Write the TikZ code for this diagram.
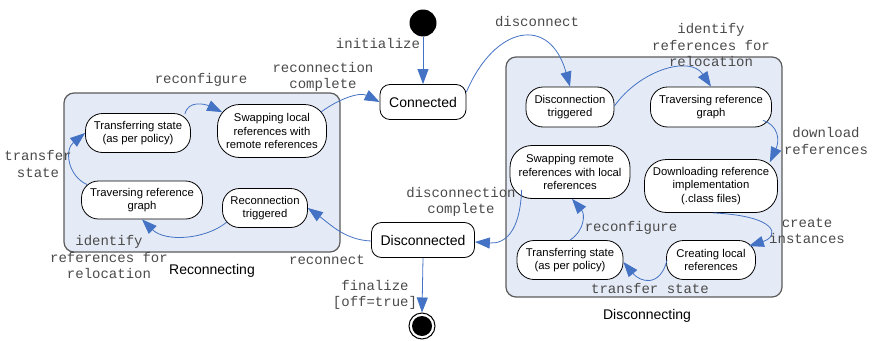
\documentclass[tikz,border=0pt]{standalone}
\usepackage{fontspec}
\setmainfont{Liberation Sans}
\newfontfamily\labelmono{Liberation Mono}
\usetikzlibrary{arrows.meta}
\definecolor{flowblue}{HTML}{4472C4}
\definecolor{regionfill}{HTML}{E5EBF6}
\definecolor{regionline}{HTML}{5A5A5A}
\definecolor{labelgray}{HTML}{4A4A4A}

\begin{document}
\begin{tikzpicture}[x=1pt,y=-1pt,
  region/.style={draw=regionline, line width=1.2pt, fill=regionfill, rounded corners=10pt},
  state/.style={draw, line width=0.8pt, fill=white, rounded corners=10pt,
    font=\fontsize{14}{17}\selectfont, inner sep=0pt},
  activity/.style={draw, line width=0.8pt, fill=white, rounded corners=#1,
    align=center, inner sep=0pt, font=\fontsize{11.3}{13.5}\selectfont},
  trans/.style={draw=flowblue, line width=0.8pt,
    -{Triangle[length=15pt,width=11pt,fill=flowblue]}},
  lbl/.style={font=\labelmono\fontsize{14}{16.5}\selectfont, text=labelgray,
    align=center, inner sep=0pt},
  regionname/.style={font=\fontsize{14}{17}\selectfont, inner sep=0pt}
]
\useasboundingbox (0,0) rectangle (872,340);

% composite states
\draw[region] (64,93) rectangle (340,252);
\draw[region] (506,57) rectangle (782,297);
\node[regionname] (recname) at (212,271) {Reconnecting};
\node[regionname] (disname) at (647,316) {Disconnecting};

% initial and final pseudo states
\node[circle, fill=black, minimum size=27pt, inner sep=0pt] (init) at (423,23) {};
\node[circle, draw, line width=1pt, minimum size=26pt, inner sep=0pt] (fin) at (422,326) {};
\fill (fin.center) circle (10pt);

% top level states
\node[state, minimum width=86pt, minimum height=35pt] (conn) at (423,102) {Connected};
\node[state, minimum width=103pt, minimum height=35pt] (disc) at (423,240) {Disconnected};

% Reconnecting activities
\node[activity=17pt, minimum width=105pt, minimum height=39pt] (rtrans) at (138,133)
  {Transferring state\\(as per policy)};
\node[activity=22pt, minimum width=109pt, minimum height=53pt] (rswap) at (272,131)
  {Swapping local\\references with\\remote references};
\node[activity=17pt, minimum width=121pt, minimum height=38pt] (rtrav) at (142,200)
  {Traversing reference\\graph};
\node[activity=17pt, minimum width=85pt, minimum height=39pt] (rtrig) at (265,208)
  {Reconnection\\triggered};

% Disconnecting activities
\node[activity=17pt, minimum width=88pt, minimum height=40pt] (dtrig) at (570,107)
  {Disconnection\\triggered};
\node[activity=17pt, minimum width=121pt, minimum height=40pt] (dtrav) at (711,107)
  {Traversing reference\\graph};
\node[activity=22pt, minimum width=120pt, minimum height=53pt] (dswap) at (570,172)
  {Swapping remote\\references with local\\references};
\node[activity=22pt, minimum width=133pt, minimum height=53pt] (dload) at (711,186)
  {Downloading reference\\implementation\\(.class files)};
\node[activity=17pt, minimum width=106pt, minimum height=39pt] (dtrans) at (570,260)
  {Transferring state\\(as per policy)};
\node[activity=17pt, minimum width=89pt, minimum height=39pt] (cloc) at (711,260)
  {Creating local\\references};

% transitions
\draw[trans] (init) -- (conn);
\draw[trans] ([yshift=10pt]conn.east) .. controls (495,25) and (550,15) .. (dtrig.north);
\draw[trans] ([yshift=1pt]dtrig.east) .. controls (640,70) and (690,55) .. (dtrav.north);
\draw[trans] ([xshift=-9pt,yshift=7pt]dtrav.south east) .. controls (778,125) and (780,140)
  .. ([xshift=-8pt,yshift=-3pt]dload.north east);
\draw[trans] ([xshift=2pt]dload.south) .. controls (778,216) and (780,236)
  .. ([xshift=-7pt,yshift=-6pt]cloc.north east);
\draw[trans] ([xshift=1pt]cloc.west) .. controls (660,288) and (640,282) .. ([yshift=-2pt]dtrans.east);
\draw[trans] (dtrans.north) .. controls (585,230) and (585,214) .. ([xshift=2pt]dswap.south);
\draw[trans] ([xshift=12pt,yshift=9pt]dswap.south west) .. controls (520,232) and (505,244)
  .. ([yshift=-2pt]disc.east);
\draw[trans] ([yshift=-1pt]disc.west) .. controls (345,240) and (330,224) .. (rtrig.east);
\draw[trans] ([xshift=5pt,yshift=6pt]rtrig.south west) .. controls (205,240) and (165,242)
  .. (rtrav.south);
\draw[trans] ([xshift=6pt,yshift=-4pt]rtrav.north west) .. controls (68,176) and (64,150)
  .. (rtrans.west);
\draw[trans] ([xshift=-6pt,yshift=-1pt]rtrans.north east) .. controls (188,100) and (205,104)
  .. ([xshift=5pt,yshift=-8pt]rswap.north west);
\draw[trans] ([xshift=-6pt,yshift=-8pt]rswap.north east) .. controls (340,98) and (360,92)
  .. (conn.west);
\draw[trans] (disc.south) -- (fin.north);

% transition labels
\node[lbl] (linit) at (378,43) {initialize};
\node[lbl] (lrecdone) at (323,77) {reconnection\\complete};
\node[lbl] (lrcfg) at (201,80) {reconfigure};
\node[lbl] (lrxfer) at (38,164) {transfer\\state};
\node[lbl] (lrident) at (109,257) {identify\\references for\\relocation};
\node[lbl] (lrecon) at (327,260) {reconnect};
\node[lbl] (ldisc) at (537,22) {disconnect};
\node[lbl] (ldident) at (711,45) {identify\\references for\\relocation};
\node[lbl] (ldown) at (826,141) {download\\references};
\node[lbl] (ldisdone) at (461,202) {disconnection\\complete};
\node[lbl] (lcreate) at (807,231) {create\\instances};
\node[lbl] (ldcfg) at (631,228) {reconfigure};
\node[lbl] (ldxfer) at (650,288) {transfer state};
\node[lbl] (lfin) at (375,295) {finalize\\{[off=true]}};
\end{tikzpicture}
\end{document}
